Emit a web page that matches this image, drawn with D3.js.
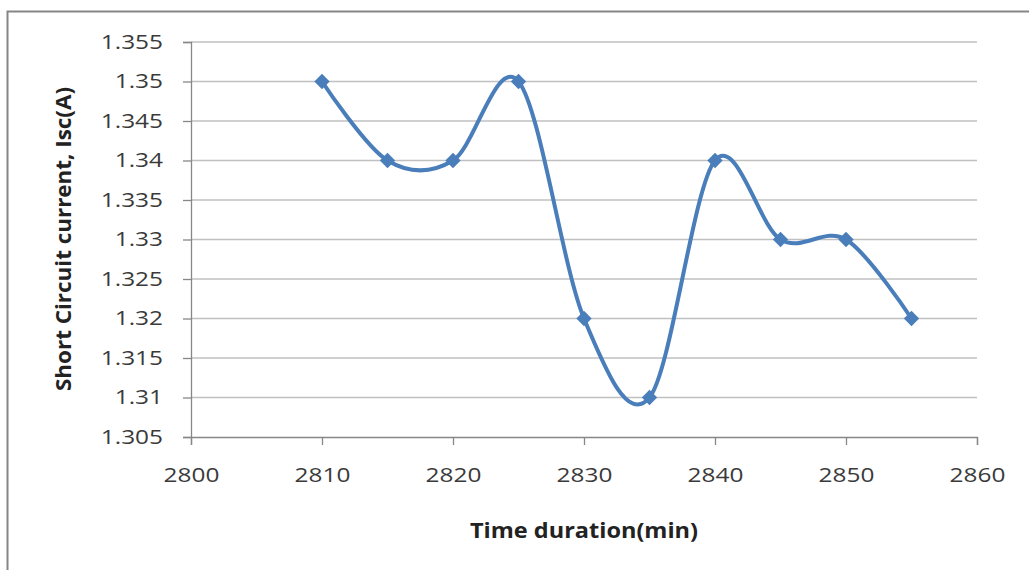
<!DOCTYPE html>
<html><head><meta charset="utf-8">
<script src="https://cdn.jsdelivr.net/npm/d3@7"></script>
<style>body{margin:0;background:#fff}svg{display:block}</style>
</head><body>
<svg id="c" width="1029" height="570"></svg>
<script>
const timeMin = [2810, 2815, 2820, 2825, 2830, 2835, 2840, 2845, 2850, 2855];
const iscA = [1.35, 1.34, 1.34, 1.35, 1.32, 1.31, 1.34, 1.33, 1.33, 1.32];
const xTicks = [2800, 2810, 2820, 2830, 2840, 2850, 2860];
const yTicks = [1.305, 1.31, 1.315, 1.32, 1.325, 1.33, 1.335, 1.34, 1.345, 1.35, 1.355];
const xTitle = "Time duration(min)";
const yTitle = "Short Circuit current, Isc(A)";

const svg = d3.select("#c");
const font = "'Open Sans', 'Liberation Sans', Arial, sans-serif";
svg.append("rect").attr("x", 7.5).attr("y", 11.5).attr("width", 1040).attr("height", 600)
  .attr("fill", "#fff").attr("stroke", "#868686").attr("stroke-width", 2);

const x = d3.scaleLinear().domain([2800, 2860]).range([191, 977]);
const y = d3.scaleLinear().domain([1.305, 1.355]).range([437, 42]);

// gridlines
svg.append("g").selectAll("line").data(yTicks.slice(1)).join("line")
  .attr("x1", x(2800)).attr("x2", x(2860))
  .attr("y1", d => y(d)).attr("y2", d => y(d))
  .attr("stroke", "#c0c0c0").attr("stroke-width", 1.5);

const yAxis = svg.append("g").attr("transform", `translate(${x(2800)},0)`)
  .call(d3.axisLeft(y).tickValues(yTicks).tickFormat(d => String(+d.toFixed(3))).tickSize(8).tickPadding(20));
const xAxis = svg.append("g").attr("transform", `translate(0,${y(1.305)})`)
  .call(d3.axisBottom(x).tickValues(xTicks).tickFormat(d3.format("d")).tickSize(8).tickPadding(23));
[yAxis, xAxis].forEach(g => {
  g.select(".domain").attr("stroke", "#878787").attr("stroke-width", 1.3);
  g.selectAll(".tick line").attr("stroke", "#878787").attr("stroke-width", 1.3);
  g.selectAll(".tick text").attr("fill", "#3a3a3a").attr("font-family", font).attr("font-size", 20)
    .each(function() {
      const w = this.getComputedTextLength();
      d3.select(this).attr("textLength", w * 1.22).attr("lengthAdjust", "spacingAndGlyphs");
    });
});

const line = d3.line().x((d, i) => x(timeMin[i])).y(d => y(d)).curve(d3.curveCatmullRom.alpha(0));
svg.append("path").datum(iscA).attr("d", line).attr("fill", "none")
  .attr("stroke", "#4a7ebb").attr("stroke-width", 4);

const sym = d3.symbol().type(d3.symbolDiamond2).size(150);
svg.append("g").selectAll("path").data(iscA).join("path")
  .attr("d", sym).attr("transform", (d, i) => `translate(${x(timeMin[i])},${y(d)})`)
  .attr("fill", "#4a7ebb");

svg.append("text").attr("x", 584).attr("y", 538).attr("text-anchor", "middle")
  .attr("font-family", font).attr("font-weight", "bold").attr("font-size", 22).attr("fill", "#222")
  .attr("textLength", 228).attr("lengthAdjust", "spacingAndGlyphs").text(xTitle);
svg.append("text").attr("transform", "translate(71,239) rotate(-90)").attr("text-anchor", "middle")
  .attr("font-family", font).attr("font-weight", "bold").attr("font-size", 22).attr("fill", "#222")
  .attr("textLength", 304).attr("lengthAdjust", "spacingAndGlyphs").text(yTitle);
</script>
</body></html>
